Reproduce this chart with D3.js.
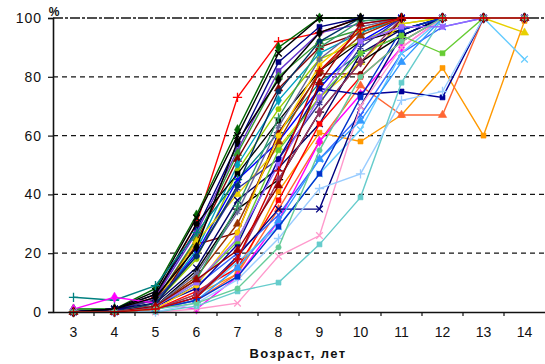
<!DOCTYPE html>
<html lang="ru">
<head>
<meta charset="UTF-8">
<script src="https://cdn.jsdelivr.net/npm/d3@7"></script>
<title>Возраст, лет</title>
<style>
  body { margin: 0; background: #fff; }
  svg text { font-family: "Liberation Sans", Arial, sans-serif; fill: #111; }
</style>
</head>
<body>
<svg id="chart" width="545" height="364"></svg>
<script>
// ages on the x axis and % ticks on the y axis
const ages = [3, 4, 5, 6, 7, 8, 9, 10, 11, 12, 13, 14];
const yTicks = [0, 20, 40, 60, 80, 100];

// one colour and one marker per series (Excel-like defaults)
const seriesColors = [
  "#ff0000", "#006600", "#000000", "#000080", "#6633cc", "#339933", "#800000",
  "#00a0c0", "#99cc00", "#000000", "#008080", "#800000", "#0000ff", "#e8d000",
  "#333399", "#000066", "#000000", "#ff9900", "#ff0000", "#ff6633", "#ff00ff",
  "#3366ff", "#66ccff", "#000099", "#000080", "#ff99cc", "#66cccc", "#99ccff",
  "#3399ff", "#0033cc", "#66cc33", "#993366", "#993300", "#ffcc00", "#666699",
  "#003366", "#339966", "#9966ff", "#990000", "#000000", "#66cc99", "#cc0000"
];
const seriesMarkers = [
  "plus", "diamond", "x", "square", "square", "triangle", "triangle",
  "diamond", "circle", "square", "plus", "circle", "x", "triangle",
  "star", "x", "plus", "square", "square", "triangle", "diamond",
  "x", "x", "square", "x", "x", "square", "plus",
  "triangle", "square", "square", "diamond", "triangle", "circle", "star",
  "circle", "plus", "square", "triangle", "diamond", "circle", "plus"
];

// % values per series, ages 3..14
const seriesValues = [
  [0, 1, 5, 30, 73, 92, 95, 100, 100, 100, 100, 100],
  [1, 1, 8, 33, 62, 90, 100, 100, 100, 100, 100, 100],
  [0, 1, 7, 32, 60, 88, 100, 100, 100, 100, 100, 100],
  [0, 1, 6, 28, 57, 85, 97, 100, 100, 100, 100, 100],
  [0, 0, 5, 27, 55, 82, 95, 98, 100, 100, 100, 100],
  [1, 1, 4, 25, 54, 80, 92, 96, 100, 100, 100, 100],
  [0, 1, 4, 24, 52, 76, 90, 95, 100, 100, 100, 100],
  [0, 0, 3, 21, 50, 72, 88, 95, 100, 100, 100, 100],
  [0, 0, 3, 18, 48, 69, 86, 92, 98, 100, 100, 100],
  [0, 1, 6, 30, 47, 65, 82, 92, 96, 100, 100, 100],
  [5, 4, 9, 27, 45, 61, 78, 88, 94, 100, 100, 100],
  [0, 1, 2, 23, 27, 61, 81, 81, 100, 100, 100, 100],
  [0, 0, 3, 20, 45, 58, 76, 92, 100, 100, 100, 100],
  [0, 0, 3, 24, 40, 56, 73, 85, 98, 100, 100, 95],
  [0, 1, 4, 19, 42, 52, 71, 90, 100, 100, 100, 100],
  [0, 1, 3, 15, 38, 49, 64, 88, 96, 100, 100, 100],
  [0, 0, 2, 14, 35, 45, 68, 85, 94, 100, 100, 100],
  [0, 0, 1, 6, 13, 41, 61, 58, 67, 83, 60, 99],
  [0, 0, 1, 7, 15, 38, 64, 80, 92, 100, 100, 100],
  [0, 0, 1, 4, 13, 35, 58, 77, 67, 67, 100, 100],
  [1, 5, 3, 1, 12, 31, 58, 74, 90, 100, 100, 100],
  [0, 0, 2, 9, 20, 33, 52, 67, 88, 97, 100, 100],
  [0, 0, 1, 5, 17, 29, 47, 62, 88, 100, 100, 86],
  [0, 0, 2, 8, 23, 52, 76, 74, 75, 73, 100, 100],
  [0, 1, 1, 5, 19, 35, 35, 70, 94, 100, 100, 100],
  [0, 0, 0, 1, 3, 19, 26, 70, 90, 100, 100, 100],
  [0, 0, 0, 2, 7, 10, 23, 39, 78, 100, 100, 100],
  [0, 0, 0, 3, 11, 25, 42, 47, 72, 75, 100, 100],
  [0, 0, 1, 4, 15, 31, 52, 65, 85, 100, 100, 100],
  [0, 0, 1, 4, 12, 29, 47, 73, 96, 100, 100, 100],
  [0, 0, 2, 10, 24, 55, 73, 88, 94, 88, 100, 100],
  [0, 0, 1, 6, 18, 45, 68, 85, 100, 100, 100, 100],
  [0, 0, 2, 12, 30, 58, 82, 94, 100, 100, 100, 100],
  [0, 0, 1, 9, 27, 60, 84, 96, 100, 100, 100, 100],
  [0, 0, 2, 13, 34, 63, 86, 97, 100, 100, 100, 100],
  [0, 0, 3, 19, 43, 75, 92, 100, 100, 100, 100, 100],
  [0, 0, 2, 11, 36, 66, 90, 99, 100, 100, 100, 100],
  [0, 0, 2, 10, 25, 50, 73, 92, 97, 97, 100, 100],
  [0, 0, 2, 11, 21, 43, 78, 98, 100, 100, 100, 100],
  [0, 1, 5, 22, 58, 79, 95, 100, 100, 100, 100, 100],
  [0, 0, 1, 3, 8, 22, 55, 80, 92, 100, 100, 100],
  [0, 0, 1, 5, 18, 48, 82, 96, 100, 100, 100, 100]
];

/*------------------- layout --------------------*/
const plot = { left: 53, right: 545, top: 18, bottom: 312 };
const svg = d3.select("#chart");

const x = d3.scaleBand().domain(ages).range([plot.left, plot.right]);
const xc = a => x(a) + x.bandwidth() / 2;
const y = d3.scaleLinear().domain([0, 100]).range([plot.bottom, plot.top]);

// dashed gridlines
svg.append("g")
  .selectAll("line")
  .data(yTicks.filter(t => t > 0))
  .join("line")
  .attr("x1", plot.left).attr("x2", plot.right)
  .attr("y1", d => y(d)).attr("y2", d => y(d))
  .attr("stroke", "#151515")
  .attr("stroke-width", d => d === 100 ? 1.4 : 1.2)
  .attr("stroke-dasharray", d => d === 100 ? "10,2,3,2" : "5,4");

/*------------------- series --------------------*/
const symbolTypes = {
  square: d3.symbolSquare, diamond: d3.symbolDiamond, triangle: d3.symbolTriangle,
  circle: d3.symbolCircle, x: d3.symbolTimes, plus: d3.symbolPlus, star: d3.symbolAsterisk
};
const strokeMarkers = ["x", "plus", "star"];

const line = d3.line()
  .x((d, i) => xc(ages[i]))
  .y(d => y(d));

const series = svg.append("g")
  .selectAll("g")
  .data(seriesValues)
  .join("g");

series.append("path")
  .attr("d", d => line(d))
  .attr("fill", "none")
  .attr("stroke", (d, i) => seriesColors[i])
  .attr("stroke-width", 1.4);

series.each(function (vals, i) {
  const m = seriesMarkers[i];
  const isStroke = strokeMarkers.includes(m);
  d3.select(this).selectAll("path.mark")
    .data(vals)
    .join("path")
    .attr("class", "mark")
    .attr("transform", (d, j) => `translate(${xc(ages[j])},${y(d)})`)
    .attr("d", d3.symbol().type(symbolTypes[m]).size(m === "circle" ? 22 : m === "square" ? 25 : 30))
    .attr("fill", isStroke ? "none" : seriesColors[i])
    .attr("stroke", seriesColors[i])
    .attr("stroke-width", isStroke ? 1.3 : 0.6);
});

/*------------------- axes --------------------*/
const xAxis = svg.append("g")
  .attr("transform", `translate(0,${plot.bottom})`)
  .call(d3.axisBottom(x).tickSize(0).tickPadding(15));
xAxis.select(".domain").attr("stroke", "#111").attr("stroke-width", 1.6);
xAxis.selectAll("text").attr("font-size", 14).attr("fill", "#111");

// Excel style ticks between categories
svg.append("g")
  .selectAll("line")
  .data(ages.slice(1))
  .join("line")
  .attr("x1", d => x(d)).attr("x2", d => x(d))
  .attr("y1", plot.bottom).attr("y2", plot.bottom + 4)
  .attr("stroke", "#111").attr("stroke-width", 1.2);

const yAxis = svg.append("g")
  .attr("transform", `translate(${plot.left},0)`)
  .call(d3.axisLeft(y).tickValues(yTicks).tickSize(5).tickPadding(6));
yAxis.select(".domain").attr("stroke", "#111").attr("stroke-width", 1.6);
yAxis.selectAll(".tick line").attr("stroke", "#111").attr("stroke-width", 1.2);
yAxis.selectAll("text").attr("font-size", 14).attr("letter-spacing", "1px").attr("fill", "#111");

svg.append("text")
  .attr("x", 54).attr("y", 16)
  .attr("text-anchor", "middle")
  .attr("font-size", 12).attr("font-weight", "bold")
  .text("%");

svg.append("text")
  .attr("x", 298).attr("y", 358)
  .attr("text-anchor", "middle")
  .attr("font-size", 13).attr("font-weight", "bold")
  .attr("letter-spacing", "1.4px")
  .text("Возраст, лет");
</script>
</body>
</html>
